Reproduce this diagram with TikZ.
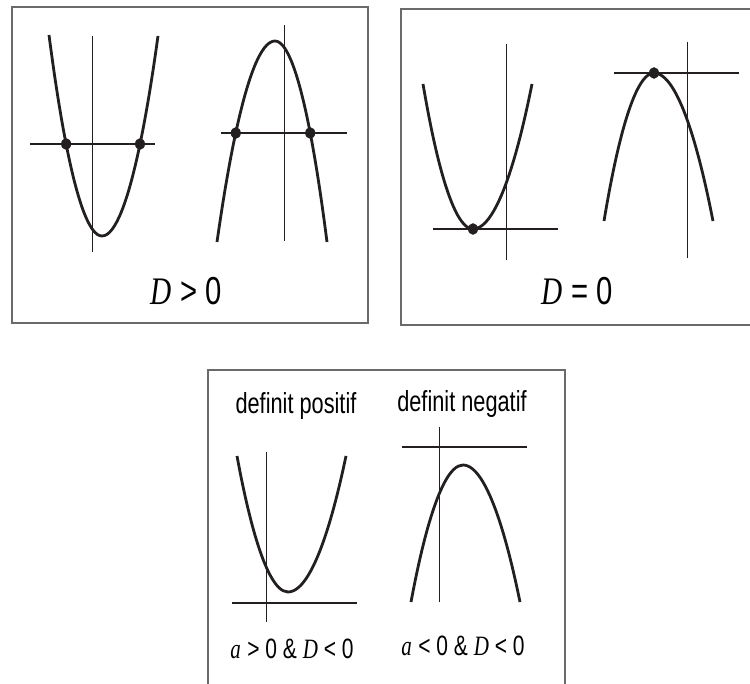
\documentclass[tikz,border=0pt]{standalone}
\usepackage{fontspec}
\usepackage{graphicx}
\newfontfamily\narrowsans{Liberation Sans}
\newfontfamily\timesit{Liberation Serif}
\definecolor{ink}{HTML}{231F20}
\definecolor{frame}{HTML}{6A6A6A}
\tikzset{
  curve/.style={draw=ink, line width=2.8pt},
  axisline/.style={draw=ink, line width=0.9pt},
  hline/.style={draw=ink, line width=1.5pt},
  dotmark/.style={fill=ink, draw=none},
  boxframe/.style={draw=frame, line width=1.3pt},
  biglabel/.style={anchor=base, inner sep=0pt, font=\fontsize{39}{40}\selectfont},
  smalllabel/.style={anchor=base, inner sep=0pt, font=\fontsize{28}{30}\selectfont},
  wordlabel/.style={anchor=base, inner sep=0pt, font=\fontsize{29}{30}\selectfont\narrowsans},
}
\newcommand{\nr}[1]{\scalebox{0.75}[1]{#1}}
\newcommand{\vi}[1]{{\timesit\itshape #1}}
\begin{document}
\begin{tikzpicture}[x=1pt,y=-1pt]
\useasboundingbox (0,0) rectangle (750,684);
\fill[white] (0,0) rectangle (750,684);

% frames
\draw[boxframe] (12,7) rectangle (368,323);
\draw[boxframe] (401,9) rectangle (760,325);
\draw[boxframe] (208,370) rectangle (565,700);

% ---------- Box 1: D > 0 ----------
\coordinate (p1l) at (49,35);
\coordinate (p1v) at (102,236);
\coordinate (p1r) at (158,36);
\draw[axisline] (92,36) coordinate (a1t) -- (92,252) coordinate (a1b);
\draw[hline] (30,144) coordinate (h1l) -- (155,144) coordinate (h1r);
\draw[curve] (p1l) parabola bend (p1v) (p1r);
\fill[dotmark] (66.1,144) circle[x radius=5pt, y radius=5.8pt];
\fill[dotmark] (140,144) circle[x radius=5pt, y radius=5.8pt];

\coordinate (p2l) at (217,242);
\coordinate (p2v) at (275,41);
\coordinate (p2r) at (327,242);
\draw[axisline] (284,25) coordinate (a2t) -- (284,241) coordinate (a2b);
\draw[hline] (221,133) coordinate (h2l) -- (347,133) coordinate (h2r);
\draw[curve] (p2l) parabola bend (p2v) (p2r);
\fill[dotmark] (235.8,133) circle[x radius=5pt, y radius=5.8pt];
\fill[dotmark] (310.2,133) circle[x radius=5pt, y radius=5.8pt];

\node[biglabel] (lab1) at (186,305) {\nr{\vi{D} \narrowsans> 0}};

% ---------- Box 2: D = 0 ----------
\coordinate (p3l) at (423,84);
\coordinate (p3v) at (473,229);
\coordinate (p3r) at (532,84);
\draw[axisline] (506,44) coordinate (a3t) -- (506,260) coordinate (a3b);
\draw[hline] (433,229) coordinate (h3l) -- (558,229) coordinate (h3r);
\draw[curve] (p3l) parabola bend (p3v) (p3r);
\fill[dotmark] (p3v) circle[x radius=5pt, y radius=5.8pt];

\coordinate (p4l) at (604,221);
\coordinate (p4v) at (654,73);
\coordinate (p4r) at (713,221);
\draw[axisline] (687,42) coordinate (a4t) -- (687,258) coordinate (a4b);
\draw[hline] (614,73) coordinate (h4l) -- (739,73) coordinate (h4r);
\draw[curve] (p4l) parabola bend (p4v) (p4r);
\fill[dotmark] (p4v) circle[x radius=5pt, y radius=5.8pt];

\node[biglabel] (lab2) at (577,305) {\nr{\vi{D} \narrowsans= 0}};

% ---------- Box 3: D < 0 ----------
\node[wordlabel] (w1) at (296,414) {\nr{definit positif}};
\node[wordlabel] (w2) at (462,412) {\nr{definit negatif}};

\coordinate (p5l) at (237,456);
\coordinate (p5v) at (288,592);
\coordinate (p5r) at (346,456);
\draw[hline] (232,603) coordinate (h5l) -- (357,603) coordinate (h5r);
\draw[axisline] (266,452) coordinate (a5t) -- (266,622) coordinate (a5b);
\draw[curve] (p5l) parabola bend (p5v) (p5r);

\coordinate (p6l) at (411,602);
\coordinate (p6v) at (463,465);
\coordinate (p6r) at (520,602);
\draw[hline] (402,447) coordinate (h6l) -- (527,447) coordinate (h6r);
\draw[axisline] (439,427) coordinate (a6t) -- (439,602) coordinate (a6b);
\draw[curve] (p6l) parabola bend (p6v) (p6r);

\node[smalllabel] (c1) at (292,658) {\nr{\vi{a} \narrowsans> 0 \& \vi{D} < 0}};
\node[smalllabel] (c2) at (463,655) {\nr{\vi{a} \narrowsans< 0 \& \vi{D} < 0}};
\end{tikzpicture}
\end{document}
